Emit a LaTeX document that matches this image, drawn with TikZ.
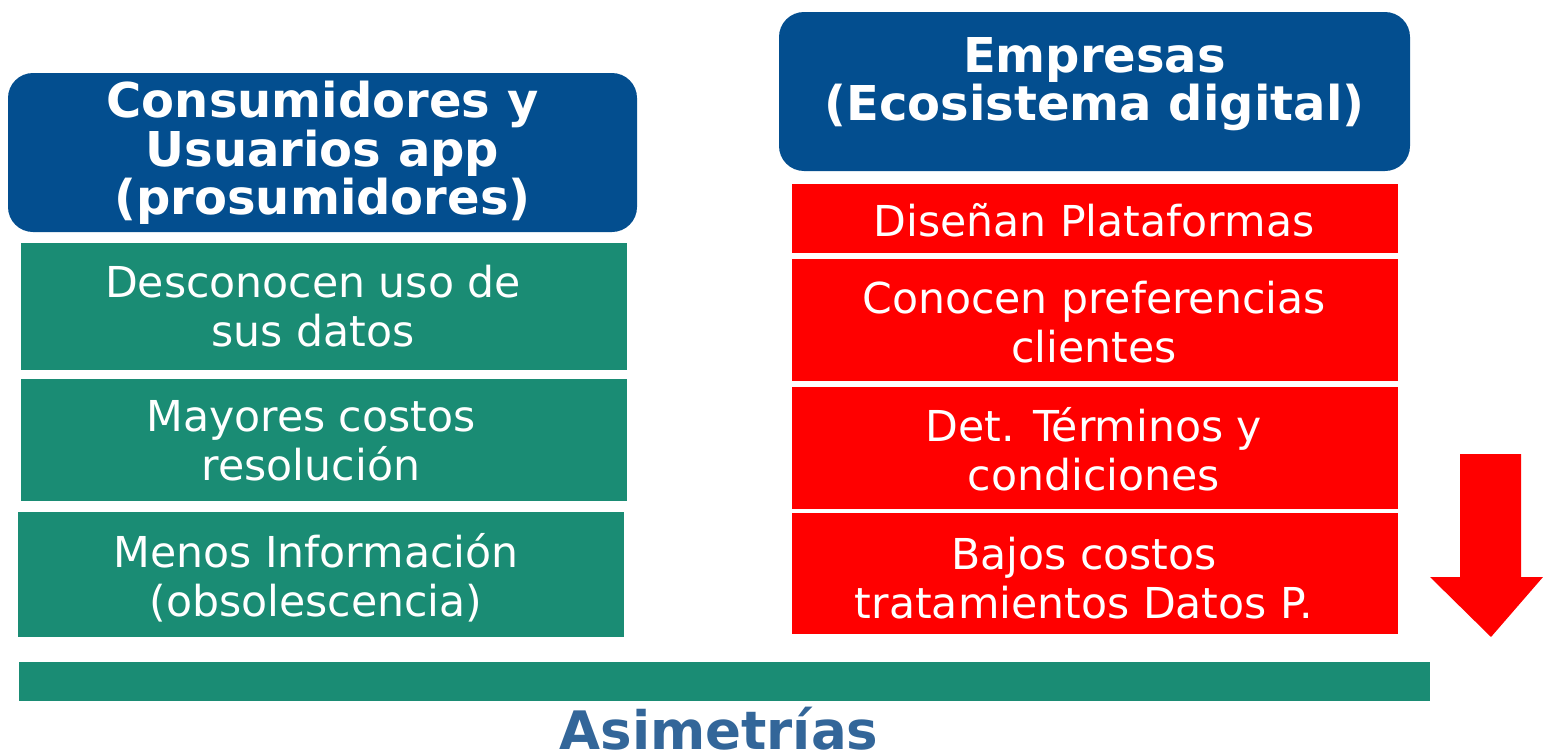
\documentclass[tikz,border=0pt]{standalone}
\usepackage{fontspec}
\setmainfont{DejaVu Sans}
\definecolor{hblue}{RGB}{3,78,143}
\definecolor{tgreen}{RGB}{26,140,116}
\definecolor{ared}{RGB}{255,0,0}
\definecolor{asim}{RGB}{51,102,153}
\tikzset{
  hdrbox/.style={fill=hblue, rounded corners=12.5pt, inner sep=0pt},
  hdrtext/.style={text=white, font=\bfseries\fontsize{24}{22.5}\selectfont, align=center, inner sep=0pt},
  gbox/.style={fill=tgreen, inner sep=0pt, minimum width=303pt},
  rbox/.style={fill=ared, inner sep=0pt, minimum width=303pt},
  bodytext/.style={text=white, font=\fontsize{21.3}{24.5}\selectfont, align=center, inner sep=0pt},
}
\begin{document}
\begin{tikzpicture}[x=0.5pt,y=-0.5pt]
\useasboundingbox (0,0) rectangle (1543,755);
% left header
\node[hdrbox, minimum width=314.5pt, minimum height=79.5pt] (lh) at (322.5,152.5) {};
\node[hdrtext] (lht) at (322.5,153) {Consumidores y\\Usuarios app\\(prosumidores)};
% right header
\node[hdrbox, minimum width=315.5pt, minimum height=79.5pt] (rh) at (1094.5,91.5) {};
\node[hdrtext] (rht) at (1094.5,84) {Empresas\\(Ecosistema digital)};
% green boxes
\node[gbox, minimum height=63.5pt] (g1) at (324,306.5) {};
\node[bodytext] (g1t) at (313,306) {Desconocen uso de\\sus datos};
\node[gbox, minimum height=61pt] (g2) at (324,440) {};
\node[bodytext] (g2t) at (311,441) {Mayores costos\\resolución};
\node[gbox, minimum height=62.5pt] (g3) at (321,574.5) {};
\node[bodytext] (g3t) at (316,578) {Menos Información\\(obsolescencia)};
% red boxes
\node[rbox, minimum height=34.5pt] (r1) at (1095,218.5) {};
\node[bodytext] (r1t) at (1094,220) {Diseñan Plataformas};
\node[rbox, minimum height=61pt] (r2) at (1095,320) {};
\node[bodytext] (r2t) at (1094,322) {Conocen preferencias\\clientes};
\node[rbox, minimum height=61pt] (r3) at (1095,448) {};
\node[bodytext] (r3t) at (1094,449.5) {Det. Términos y\\condiciones};
\node[rbox, minimum height=60.5pt] (r4) at (1095,573.5) {};
\node[bodytext] (r4t) at (1084,578) {Bajos costos\\tratamientos Datos P.};
% bar
\node[fill=tgreen, inner sep=0pt, minimum width=705.5pt, minimum height=19.5pt] (bar) at (724.5,681.5) {};
\node[text=asim, font=\bfseries\fontsize{26.5}{30}\selectfont, inner sep=0pt, anchor=base] (asimt) at (719,749) {Asimetrías};
% arrow
\fill[ared] (1460,454) -- (1521,454) -- (1521,577) -- (1543,577) -- (1491,637) -- (1430,577) -- (1460,577) -- cycle;
\end{tikzpicture}
\end{document}
